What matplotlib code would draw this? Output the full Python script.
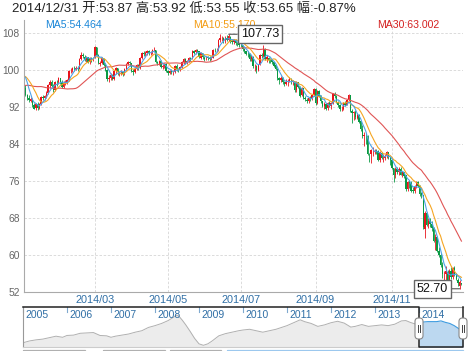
import matplotlib
matplotlib.use('Agg')
import matplotlib.pyplot as plt
from matplotlib.patches import FancyBboxPatch, Rectangle
import matplotlib.transforms as mtransforms
import numpy as np
import pandas as pd

plt.rcParams['font.family'] = ['Liberation Sans', 'Noto Sans CJK SC', 'DejaVu Sans']

# closes de fin 2013 (pour amorcer les moyennes mobiles)
pre_closes = [93.34, 93.85, 95.44, 94.84, 94.09, 93.68, 92.30, 92.72,
              93.61, 96.04, 97.20, 97.38, 97.65, 97.34, 98.51, 97.44, 97.50, 96.60,
              97.48, 97.22, 97.80, 98.40, 99.32, 98.91, 99.22, 99.55, 100.32, 99.29, 98.42]

holidays = ['2014-01-20', '2014-02-17', '2014-04-18', '2014-05-26',
            '2014-07-04', '2014-09-01', '2014-11-27', '2014-12-25']

opens = [
    96.20, 94.60, 94.00, 93.40, 93.70, 92.40, 91.70, 92.70, 91.80, 92.60, 94.20, 93.90, 94.40, 95.00, 96.70, 97.30, 96.60, 95.70, 97.40, 97.40, 98.20,  # jan
    97.50, 96.40, 97.20, 97.40, 97.80, 99.90, 100.00, 100.40, 100.30, 100.40, 100.30, 102.40, 103.30, 102.90, 102.20, 102.80, 101.80, 102.60, 102.40,  # feb
    102.60, 104.90, 103.30, 101.40, 101.60, 102.60, 101.10, 100.00, 98.00, 98.20, 98.90, 98.10, 99.70, 100.40, 99.40, 99.50, 99.60, 99.20, 100.30, 101.30, 101.70,  # mar
    101.50, 99.70, 99.60, 100.30, 101.10, 100.40, 102.60, 103.60, 103.40, 103.70, 104.10, 103.70, 103.80, 104.30, 104.30, 101.70, 101.40, 101.90, 100.60, 100.80, 101.30,  # apr
    99.70, 99.40, 99.80, 99.50, 99.50, 100.80, 100.30, 100.00, 100.60, 101.70, 102.40, 101.50, 102.00, 102.60, 102.40, 104.10, 103.80, 104.40, 104.10, 102.70, 103.60,  # may
    102.70, 102.50, 102.70, 102.60, 102.50, 102.70, 104.40, 104.30, 104.40, 106.50, 106.90, 106.90, 106.40, 107.00, 106.40, 107.20, 106.20, 106.00, 106.50, 105.80, 105.70,  # jun
    105.40, 105.30, 104.50, 104.00, 103.50, 103.40, 102.30, 102.90, 100.80, 100.90, 100.00, 101.20, 103.20, 103.10, 104.50, 102.40, 102.70, 102.10, 102.10, 101.70, 101.00, 100.30,  # jul
    98.20, 97.90, 98.30, 97.40, 96.90, 97.30, 97.60, 98.10, 97.40, 97.60, 95.60, 97.30, 96.40, 94.50, 96.00, 94.00, 93.60, 93.40, 93.90, 93.90, 94.60,  # aug
    95.90, 92.90, 95.50, 94.50, 93.30, 92.30, 92.70, 91.70, 92.80, 92.30, 92.90, 94.90, 94.40, 93.10, 92.40, 91.50, 91.60, 92.80, 92.50, 93.50, 94.60,  # sep
    91.20, 90.70, 91.00, 89.70, 90.30, 88.90, 87.30, 85.80, 85.80, 85.70, 81.80, 81.80, 82.70, 82.70, 82.70, 82.50, 80.50, 82.10, 81.00, 81.00, 81.40, 82.20, 81.10,  # oct
    80.50, 78.80, 77.20, 78.70, 77.90, 78.60, 77.40, 77.90, 77.20, 74.20, 75.80, 75.60, 73.90, 73.90, 74.80, 75.70, 75.00, 73.30, 72.90,  # nov
    65.70, 69.00, 66.40, 67.40, 66.80, 65.80, 63.00, 63.80, 60.90, 59.90, 57.80, 55.90, 55.90, 56.40, 54.10, 56.50, 55.20, 57.10, 55.80, 54.70, 53.40, 53.87,  # dec
]
highs = [
    96.80, 94.90, 94.50, 94.10, 93.90, 92.80, 92.90, 93.00, 92.80, 94.40, 94.50, 94.60, 95.40, 96.90, 97.80, 97.80, 96.90, 97.60, 97.80, 98.40, 98.30,
    97.90, 97.60, 97.90, 98.00, 100.10, 100.50, 100.60, 100.90, 100.90, 100.80, 102.60, 103.80, 103.60, 103.20, 103.10, 102.90, 102.80, 102.90, 102.90,
    105.20, 105.00, 103.40, 101.90, 102.90, 102.70, 101.50, 100.30, 99.00, 99.30, 99.20, 99.90, 100.60, 100.50, 99.80, 99.90, 99.80, 100.50, 101.50, 102.00, 102.00,
    101.60, 100.20, 100.50, 101.30, 101.20, 102.80, 103.80, 104.00, 104.00, 104.40, 104.30, 104.20, 104.50, 104.90, 104.40, 102.00, 102.20, 102.10, 101.20, 101.50, 101.50,
    100.00, 100.10, 100.20, 99.90, 101.00, 101.20, 100.40, 100.80, 102.00, 102.60, 102.50, 102.20, 102.80, 102.80, 104.30, 104.40, 104.50, 104.60, 104.20, 103.80, 103.70,
    103.00, 103.00, 103.10, 103.00, 103.00, 104.60, 104.70, 104.80, 106.80, 107.70, 107.40, 107.10, 107.30, 107.50, 107.73, 107.40, 106.60, 106.80, 106.60, 106.00, 105.90,
    106.00, 105.50, 104.70, 104.20, 104.00, 103.60, 103.30, 103.00, 101.40, 101.00, 101.40, 103.50, 103.70, 105.40, 104.80, 103.20, 102.90, 102.60, 102.30, 101.80, 101.40, 100.40,
    98.40, 98.60, 98.40, 97.60, 98.00, 98.10, 98.40, 98.20, 97.80, 97.70, 97.60, 97.40, 96.50, 96.30, 96.10, 94.30, 93.90, 94.10, 94.30, 94.80, 96.10,
    96.10, 95.70, 95.60, 94.70, 93.40, 93.00, 92.90, 93.00, 93.20, 93.10, 95.10, 95.20, 94.60, 93.30, 92.60, 92.20, 93.00, 93.30, 93.70, 94.90, 94.70,
    91.50, 91.20, 91.30, 90.70, 90.40, 89.00, 88.00, 86.50, 86.30, 85.90, 82.10, 83.00, 83.30, 83.00, 83.00, 82.70, 82.40, 82.20, 81.80, 81.80, 82.50, 82.30, 81.20,
    80.70, 78.90, 79.00, 79.00, 79.00, 79.10, 78.20, 78.00, 77.30, 76.10, 76.20, 75.90, 74.70, 75.20, 76.10, 76.00, 75.10, 73.70, 73.00,
    69.50, 69.20, 67.90, 67.90, 67.30, 66.00, 64.50, 64.00, 61.70, 60.40, 58.50, 56.60, 57.60, 56.70, 57.00, 57.40, 57.40, 57.60, 56.00, 55.00, 54.50, 53.92,
]
lows = [
    94.40, 93.60, 93.10, 93.00, 92.00, 91.50, 91.30, 91.40, 91.60, 92.40, 93.50, 93.60, 93.90, 94.90, 96.20, 96.40, 95.20, 95.50, 96.50, 97.00, 96.90,
    96.20, 96.00, 96.80, 96.90, 97.60, 99.40, 99.50, 99.70, 99.90, 99.80, 100.20, 102.20, 102.50, 101.90, 101.80, 101.50, 101.30, 101.80, 101.90,
    102.50, 103.00, 101.20, 100.80, 101.30, 100.90, 99.70, 97.70, 97.40, 97.80, 97.80, 97.90, 99.20, 98.90, 98.80, 98.90, 98.80, 99.00, 100.00, 101.00, 100.80,
    99.50, 98.90, 99.30, 100.00, 100.10, 100.20, 102.30, 103.00, 103.10, 103.30, 103.20, 103.30, 103.50, 104.00, 101.50, 101.00, 101.10, 100.40, 100.30, 100.40, 99.50,
    99.00, 99.10, 99.20, 98.90, 99.30, 99.80, 99.50, 99.70, 100.40, 101.40, 101.30, 101.20, 101.80, 102.00, 102.30, 103.40, 103.50, 103.80, 102.50, 102.40, 102.40,
    102.00, 102.10, 102.20, 102.00, 102.20, 102.60, 103.90, 103.90, 104.20, 106.00, 106.20, 105.90, 105.80, 106.20, 106.30, 105.80, 105.70, 105.60, 105.40, 105.20, 105.00,
    104.90, 104.00, 103.60, 103.20, 102.90, 102.00, 101.90, 100.50, 99.80, 99.40, 99.70, 101.00, 102.50, 102.90, 102.20, 101.80, 101.60, 101.50, 101.20, 100.60, 99.90, 97.90,
    96.90, 97.40, 96.90, 96.50, 96.70, 96.60, 97.30, 97.00, 96.80, 95.30, 95.20, 96.10, 94.20, 94.30, 93.70, 93.30, 92.90, 92.90, 93.20, 93.60, 94.40,
    92.50, 92.70, 94.10, 92.90, 92.00, 91.60, 91.40, 91.30, 91.90, 91.50, 92.70, 94.00, 92.80, 92.10, 91.20, 91.10, 91.40, 92.20, 92.40, 93.20, 90.90,
    88.50, 89.20, 89.30, 89.40, 88.50, 86.90, 85.40, 83.60, 84.00, 81.60, 80.00, 79.80, 81.40, 81.90, 81.80, 80.30, 80.10, 80.70, 80.10, 80.60, 81.00, 80.70, 79.40,
    78.60, 75.80, 76.60, 77.50, 77.20, 77.20, 76.90, 76.70, 73.90, 73.80, 74.40, 73.60, 73.40, 73.30, 74.50, 74.70, 72.80, 72.40, 65.70,
    63.70, 66.20, 65.80, 66.10, 65.20, 62.90, 61.00, 60.70, 59.50, 57.30, 55.10, 53.60, 54.00, 54.00, 54.00, 54.90, 54.90, 55.50, 54.50, 53.20, 52.70, 53.55,
]
closes = [
    94.60, 93.96, 93.43, 93.67, 92.33, 91.66, 92.72, 91.80, 92.59, 94.17, 93.96, 94.37, 94.99, 96.73, 97.32, 96.64, 95.72, 97.41, 97.36, 98.23, 97.49,
    96.43, 97.19, 97.38, 97.84, 99.88, 100.06, 100.37, 100.37, 100.35, 100.30, 102.43, 103.31, 102.92, 102.20, 102.82, 101.83, 102.59, 102.40, 102.59,
    104.92, 103.33, 101.45, 101.56, 102.58, 101.12, 100.03, 97.99, 98.20, 98.89, 98.08, 99.70, 100.37, 99.46, 99.46, 99.60, 99.19, 100.26, 101.28, 101.67, 101.58,
    99.74, 99.62, 100.29, 101.14, 100.44, 102.56, 103.60, 103.40, 103.74, 104.05, 103.75, 103.76, 104.30, 104.37, 101.75, 101.44, 101.94, 100.60, 100.84, 101.28, 99.74,
    99.42, 99.76, 99.48, 99.50, 100.77, 100.26, 99.99, 100.59, 101.70, 102.37, 101.50, 102.02, 102.61, 102.44, 104.07, 103.75, 104.35, 104.11, 102.72, 103.58, 102.71,
    102.47, 102.66, 102.64, 102.48, 102.66, 104.41, 104.35, 104.40, 106.53, 106.91, 106.90, 106.36, 106.97, 106.43, 107.26, 106.17, 106.03, 106.50, 105.84, 105.74, 105.37,
    105.34, 104.48, 104.06, 103.53, 103.40, 102.29, 102.93, 100.83, 100.91, 99.96, 101.20, 103.19, 103.13, 104.59, 102.39, 102.76, 102.07, 102.09, 101.67, 100.97, 100.27, 98.17,
    97.88, 98.29, 97.38, 96.92, 97.34, 97.65, 98.08, 97.37, 97.59, 95.58, 97.35, 96.41, 94.48, 96.07, 93.96, 93.65, 93.35, 93.86, 93.88, 94.55, 95.96,
    92.88, 95.54, 94.45, 93.29, 92.29, 92.75, 91.67, 92.83, 92.27, 92.92, 94.88, 94.42, 93.07, 92.41, 91.52, 91.56, 92.80, 92.53, 93.54, 94.57, 91.16,
    90.73, 91.01, 89.74, 90.34, 88.85, 87.31, 85.77, 85.82, 85.74, 81.84, 81.78, 82.70, 82.75, 82.71, 82.49, 80.52, 82.09, 81.01, 81.00, 81.42, 82.20, 81.12, 80.54,
    78.78, 77.19, 78.68, 77.91, 78.65, 77.40, 77.94, 77.18, 74.21, 75.82, 75.64, 73.91, 73.88, 74.78, 75.71, 74.98, 73.29, 72.89, 66.15,
    69.00, 66.43, 67.29, 66.81, 65.84, 63.05, 63.82, 60.94, 59.95, 57.81, 55.91, 55.93, 56.47, 54.11, 56.52, 55.16, 57.12, 55.84, 54.73, 53.98, 54.12, 53.65,
]

# navigateur 2005-2014
nav_years = [2005.00, 2005.15, 2005.30, 2005.45, 2005.60, 2005.75, 2005.90, 2006.00, 2006.15, 2006.30,
             2006.45, 2006.60, 2006.75, 2006.90, 2007.00, 2007.10, 2007.25, 2007.40, 2007.55, 2007.70,
             2007.85, 2008.00, 2008.15, 2008.30, 2008.42, 2008.50, 2008.55, 2008.62, 2008.70, 2008.80,
             2008.90, 2009.00, 2009.10, 2009.20, 2009.30, 2009.45, 2009.60, 2009.75, 2009.90, 2010.00,
             2010.15, 2010.30, 2010.45, 2010.60, 2010.75, 2010.90, 2011.00, 2011.15, 2011.30, 2011.40,
             2011.55, 2011.70, 2011.85, 2012.00, 2012.15, 2012.30, 2012.45, 2012.55, 2012.70, 2012.85,
             2013.00, 2013.15, 2013.30, 2013.45, 2013.60, 2013.70, 2013.80, 2013.90, 2014.00]
nav_values = [43, 48, 51, 53, 57, 61, 58, 63, 64, 69,
              70, 71, 63, 62, 58, 61, 64, 67, 72, 76,
              85, 90, 96, 104, 113, 119, 115, 105, 92, 74,
              55, 40, 36, 40, 48, 62, 68, 72, 76, 78,
              80, 76, 72, 76, 80, 86, 90, 98, 106, 101,
              96, 88, 92, 98, 102, 97, 86, 88, 93, 88,
              90, 92, 90, 94, 103, 104, 99, 95, 99]
sel_years = [2014.00, 2014.10, 2014.20, 2014.30, 2014.40, 2014.50, 2014.60, 2014.70, 2014.80, 2014.90, 2015.00]
sel_values = [99, 100, 101, 101, 101, 103, 99, 96, 90, 82, 72]

dates = pd.bdate_range('2014-01-02', '2014-12-31')
dates = dates[~dates.isin(pd.to_datetime(holidays))]

o = np.array(opens)
h = np.array(highs)
l = np.array(lows)
c = np.array(closes)
x = np.arange(len(c))

serie = pd.Series(pre_closes + closes)
n0 = len(pre_closes)
ma5 = serie.rolling(5).mean().values[n0:]
ma10 = serie.rolling(10).mean().values[n0:]
ma30 = serie.rolling(30).mean().values[n0:]

W, H = 468, 351
fig = plt.figure(figsize=(W / 100, H / 100), dpi=100)

ax = fig.add_axes([24 / W, 1 - 292 / H, 439 / W, 272 / H])
couleur = np.where(c >= o, '#e8141c', '#0a9a44')
ax.vlines(x, l, h, colors=couleur, lw=0.6, zorder=2)
ax.bar(x, np.maximum(np.abs(c - o), 0.08), bottom=np.minimum(o, c), width=0.8,
       color=couleur, lw=0, zorder=2)
ax.plot(x, ma30, color='#e05555', lw=0.8, zorder=3)
ax.plot(x, ma10, color='#f5a623', lw=0.8, zorder=3)
ax.plot(x, ma5, color='#4da3e8', lw=0.8, zorder=3)

ax.set_xlim(-0.86, 251.9)
ax.set_ylim(52, 110.81)
ax.set_yticks(np.arange(52, 109, 8))
mois = [3, 5, 7, 9, 11]
pos = [int(np.argmax(dates.month == m)) for m in mois]
ax.set_xticks(pos, [dates[p].strftime('%Y/%m') for p in pos])
ax.grid(True, ls=(0, (3, 2)), color='#d6d6d6', lw=0.6, zorder=0)
ax.set_axisbelow(True)
for s in ['top', 'right']:
    ax.spines[s].set_visible(False)
ax.spines['left'].set_color('#aaaaaa')
ax.spines['bottom'].set_color('#aaaaaa')
ax.tick_params(axis='y', length=0, labelsize=7.4, labelcolor='#666666', pad=3)
ax.tick_params(axis='x', length=0, labelsize=7.8, labelcolor='#2f6ea5', pad=2)

# max / min
ih = int(np.argmax(h))
ax.annotate('%.2f' % h[ih], xy=(ih, h[ih]), xytext=(ih + 7, h[ih]), ha='left', va='center',
            fontsize=9, color='#111111', zorder=10, annotation_clip=False,
            bbox=dict(boxstyle='square,pad=0.25', fc='white', ec='#666666', lw=1),
            arrowprops=dict(arrowstyle='-', color='#555555', lw=0.8, shrinkA=0, shrinkB=0))
il = int(np.argmin(l))
ax.annotate('%.2f' % l[il], xy=(il, l[il]), xytext=(il - 6.8, l[il]), ha='right', va='center',
            fontsize=9, color='#111111', zorder=10, annotation_clip=False,
            bbox=dict(boxstyle='square,pad=0.25', fc='white', ec='#666666', lw=1),
            arrowprops=dict(arrowstyle='-', color='#555555', lw=0.8, shrinkA=0, shrinkB=0))

# légende des MA
for xp, txt, col in [(45, 'MA5:%.3f' % ma5[-1], '#1a86d8'),
                     (193, 'MA10:%.3f' % ma10[-1], '#f39c12'),
                     (377, 'MA30:%.3f' % ma30[-1], '#d42020')]:
    ax.text(xp / W, 1 - 25 / H, txt, transform=fig.transFigure, color=col, fontsize=7.6,
            va='center', ha='left', zorder=5)

variation = (c[-1] / c[-2] - 1) * 100
titre = '%s 开:%.2f 高:%.2f 低:%.2f 收:%.2f 幅:%.2f%%' % (
    dates[-1].strftime('%Y/%m/%d'), o[-1], h[-1], l[-1], c[-1], variation)
fig.text(12 / W, 1 - 9 / H, titre, fontsize=9.5, color='#222222', va='center', ha='left')

# navigateur
nav = fig.add_axes([23 / W, 1 - 347 / H, 440 / W, 40 / H])
nav.fill_between(nav_years, nav_values, 0, color='#ececec', lw=0)
nav.plot(nav_years, nav_values, color='#b0b0b0', lw=0.7)
nav.fill_between(sel_years, sel_values, 0, color='#bcd8f0', lw=0)
nav.plot(sel_years, sel_values, color='#3d9be0', lw=0.8)
nav.set_xlim(2005, 2015)
nav.set_ylim(31.3, 141.2)
nav.axis('off')
trans = mtransforms.blended_transform_factory(nav.transData, nav.transAxes)
for an in range(2005, 2015):
    nav.plot([an, an], [1, 0.88], color='#7fa9cf', lw=0.8, transform=trans, clip_on=False)
    nav.text(an + 0.05, 0.79, str(an), color='#2f6ea5', fontsize=7.5, va='center', ha='left',
             transform=trans)

# décor du navigateur (pixels)
deco = fig.add_axes([0, 0, 1, 1], facecolor='none')
deco.set_xlim(0, W)
deco.set_ylim(H, 0)
deco.axis('off')
deco.plot([23, 23], [307, 347], color='#999999', lw=0.8)
deco.plot([23, 419], [347, 347], color='#cccccc', lw=0.8)
deco.plot([419, 463], [307, 307], color='#999999', lw=0.8)
deco.plot([23, 419, 419, 463, 463], [307, 307, 347, 347, 307], color='#222222', lw=1.1)
for hx in [419, 463]:
    deco.add_patch(FancyBboxPatch((hx - 4, 318), 8, 21, boxstyle='round,pad=0,rounding_size=3.5',
                                  fc='white', ec='#888888', lw=0.8, zorder=5))
    deco.plot([hx - 1.2, hx - 1.2], [325, 332], color='#444444', lw=0.7, zorder=6)
    deco.plot([hx + 1.2, hx + 1.2], [325, 332], color='#444444', lw=0.7, zorder=6)
for bx0, bx1, ec in [(23, 85, '#b0b0b0'), (103, 165, '#b0b0b0'), (170, 221, '#b0b0b0'), (227, 463, '#9cc8ee')]:
    deco.add_patch(Rectangle((bx0, 349.5), bx1 - bx0, 10, fill=False, ec=ec, lw=0.9))

fig.savefig('out.png', dpi=100)
